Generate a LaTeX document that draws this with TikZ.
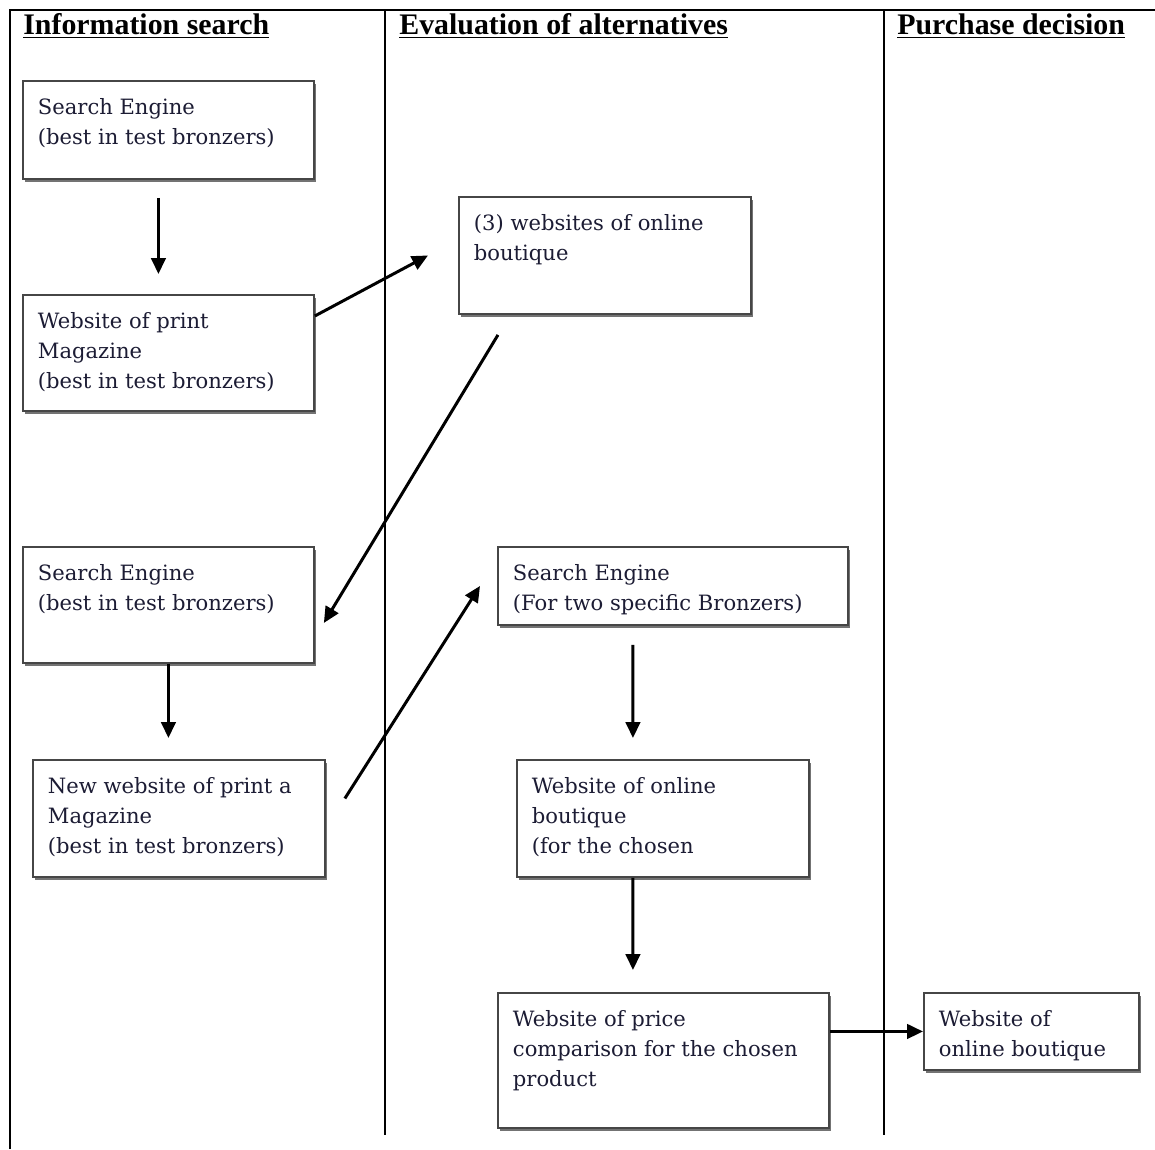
\documentclass[tikz,border=0pt]{standalone}
\usepackage{fontspec}
\setmainfont{Liberation Serif}
\newfontfamily\cellfont{DejaVu Serif}
\usetikzlibrary{arrows.meta,shadows}
\definecolor{ink}{RGB}{28,28,52}
\definecolor{boxline}{RGB}{70,70,70}
\tikzset{
    journey/.style = {x=0.02cm, y=-0.02cm},
    frame/.style   = {line width=1.1pt},
    header/.style  = {anchor=base west, inner sep=0pt,
                      font=\fontsize{17}{20}\selectfont\bfseries},
    cell/.style    = {draw=boxline, line width=1.1pt, fill=white,
                      anchor=north west, inner sep=0.3cm, text=ink,
                      font=\cellfont\fontsize{12}{17}\selectfont,
                      drop shadow={shadow xshift=0.05cm, shadow yshift=-0.06cm,
                                   fill=black!55, opacity=1}},
    flow/.style    = {line width=1.7pt,
                      -{Triangle[length=3.2mm, width=2.9mm]}}
}
\newcommand{\celltext}[3]{\parbox[c][\dimexpr#2cm-0.6cm\relax][t]{\dimexpr#1cm-0.6cm\relax}{\raggedright\vspace*{0.06cm}#3}}

\begin{document}
\begin{tikzpicture}[journey]
\useasboundingbox (0,0) rectangle (1155,1149);

% ================= Swimlanes =================
\draw[frame] (10,1149) -- (10,10) -- (1155,10);
\draw[frame] (385,10) -- (385,1135);
\draw[frame] (884,10) -- (884,1135);
\node[header] (hInfo) at (23,35) {\underline{Information search}};
\node[header] (hEval) at (399,35) {\underline{Evaluation of alternatives}};
\node[header] (hBuy)  at (897,35) {\underline{Purchase decision}};

% ================= Information search =================
\node[cell] (SE1) at (22,80)
    {\celltext{5.82}{1.96}{Search Engine\\(best in test bronzers)}};
\node[cell] (WPM) at (22,294)
    {\celltext{5.82}{2.32}{Website of print\\Magazine\\(best in test bronzers)}};
\node[cell] (SE2) at (22,546)
    {\celltext{5.82}{2.32}{Search Engine\\(best in test bronzers)}};
\node[cell] (NWPM) at (32,759)
    {\celltext{5.84}{2.34}{New website of print a\\Magazine\\(best in test bronzers)}};

% ================= Evaluation of alternatives =================
\node[cell] (Web3) at (458,196)
    {\celltext{5.84}{2.34}{(3) websites of online\\boutique}};
\node[cell] (SE3) at (497,546)
    {\celltext{7.0}{1.56}{Search Engine\\(For two specific Bronzers)}};
\node[cell] (WOB) at (516,759)
    {\celltext{5.84}{2.34}{Website of online\\boutique\\(for the chosen}};
\node[cell] (WPC) at (497,992)
    {\celltext{6.62}{2.70}{Website of price\\comparison for the chosen\\product}};

% ================= Purchase decision =================
\node[cell] (WOB2) at (923,992)
    {\celltext{4.30}{1.54}{Website of\\online boutique}};

% ================= Flow =================
\draw[flow, shorten <=0.36cm, shorten >=0.4cm]
    ([xshift=-0.2cm]SE1.south) -- ([xshift=-0.2cm]WPM.north);
\draw[flow] ([yshift=0.74cm]WPM.east) -- ([xshift=-0.6cm]Web3.west);
\draw[flow] ([xshift=-2.14cm, yshift=-0.4cm]Web3.south)
    -- ([xshift=0.18cm, yshift=-0.36cm]SE2.east);
\draw[flow, shorten >=0.42cm] (SE2.south) -- (SE2.south |- NWPM.north);
\draw[flow] ([xshift=0.38cm, yshift=0.4cm]NWPM.east)
    -- ([xshift=-0.34cm]SE3.west);
\draw[flow, shorten <=0.38cm, shorten >=0.42cm]
    ([xshift=-0.8cm]SE3.south) -- ([xshift=-0.6cm]WOB.north);
\draw[flow, shorten >=0.44cm]
    ([xshift=-0.6cm]WOB.south) -- ([xshift=-0.61cm]WPC.north);
\draw[flow] (WPC.east |- WOB2.west) -- (WOB2.west);

\end{tikzpicture}
\end{document}
